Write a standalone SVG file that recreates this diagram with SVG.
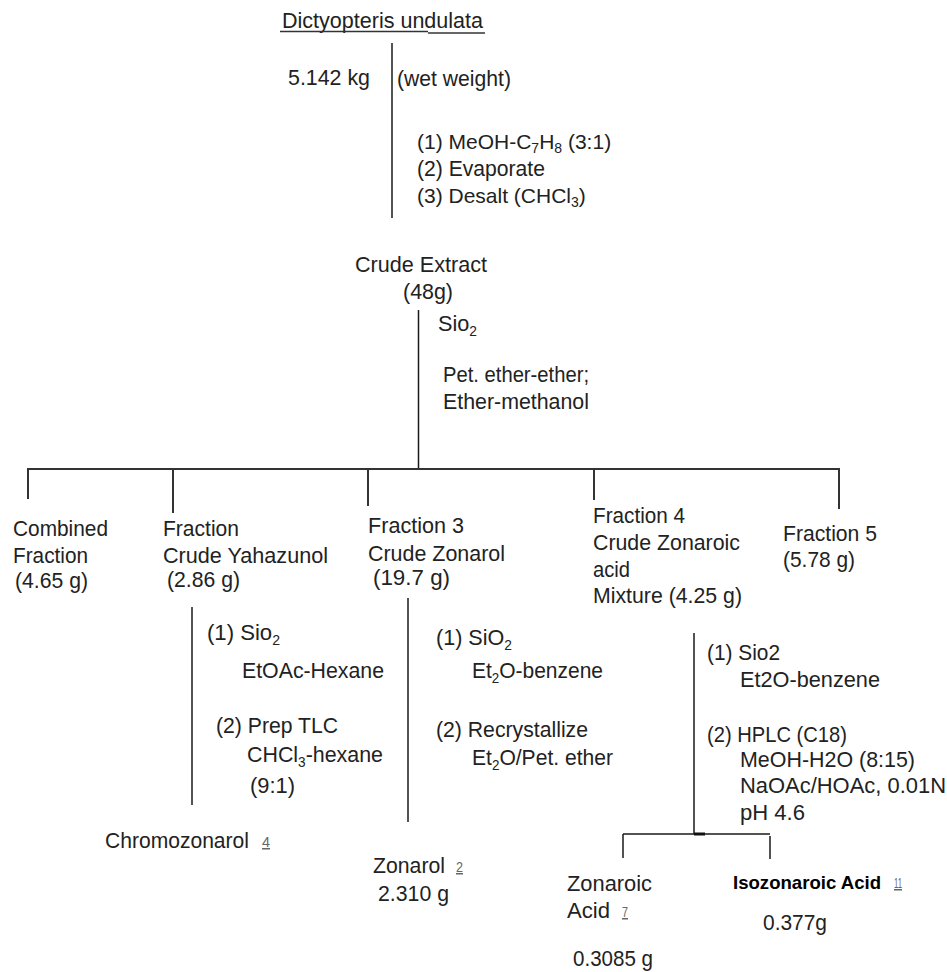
<svg xmlns="http://www.w3.org/2000/svg" width="947" height="972" viewBox="0 0 947 972">
<style>
.t{font-family:"Liberation Sans",Arial,sans-serif;font-size:22px;fill:#222}
.b{font-weight:bold;fill:#000;font-size:19px}
.n{font-family:"Liberation Sans",Arial,sans-serif;font-size:15px;fill:#666;text-decoration:underline}
.s{font-size:14px}
.ln{stroke:#1a1a1a;stroke-width:1.5;fill:none}
.hl{stroke:#333;stroke-width:2;fill:none}
</style>
<rect width="947" height="972" fill="#fff"/>
<g id="connectors">
<line class="ln" x1="392" y1="43" x2="392" y2="218"/>
<line class="ln" x1="418.5" y1="310" x2="418.5" y2="469"/>
<line class="hl" x1="27" y1="469" x2="840" y2="469"/>
<line class="hl" x1="28" y1="469" x2="28" y2="499"/>
<line class="hl" x1="173" y1="469" x2="173" y2="513"/>
<line class="hl" x1="368" y1="469" x2="368" y2="506"/>
<line class="hl" x1="594" y1="469" x2="594" y2="500"/>
<line class="hl" x1="839" y1="469" x2="839" y2="509"/>
<line class="ln" x1="192" y1="607" x2="192" y2="805"/>
<line class="ln" x1="408" y1="598" x2="408" y2="822"/>
<line class="ln" x1="694" y1="633" x2="694" y2="834"/>
<line class="ln" x1="623" y1="834" x2="770" y2="834"/>
<line stroke="#111" stroke-width="3" x1="694" y1="834" x2="705" y2="834"/>
<line class="ln" x1="623" y1="834" x2="623" y2="858"/>
<line class="ln" x1="770" y1="836" x2="770" y2="859"/>
</g>
<g id="source">
<text class="t" x="282" y="28" textLength="201" lengthAdjust="spacingAndGlyphs">Dictyopteris undulata</text>
<line stroke="#333" stroke-width="1.5" x1="280" y1="31.5" x2="428" y2="31.5"/>
<line stroke="#333" stroke-width="1.5" x1="428" y1="33" x2="485" y2="33"/>
<text class="t" x="288" y="85" textLength="82" lengthAdjust="spacingAndGlyphs">5.142 kg</text>
<text class="t" x="397" y="86" textLength="114" lengthAdjust="spacingAndGlyphs">(wet weight)</text>
</g>
<g id="step-extraction">
<text class="t" x="417" y="149" style="font-size:21px">(1) MeOH-C<tspan class="s" dy="4">7</tspan><tspan dy="-4">H</tspan><tspan class="s" dy="4">8</tspan><tspan dy="-4"> (3:1)</tspan></text>
<text class="t" x="417" y="176" textLength="128" lengthAdjust="spacingAndGlyphs">(2) Evaporate</text>
<text class="t" x="417" y="203" style="font-size:21px">(3) Desalt (CHCl<tspan class="s" dy="4">3</tspan><tspan dy="-4">)</tspan></text>
</g>
<g id="crude-extract">
<text class="t" x="355" y="272" textLength="132" lengthAdjust="spacingAndGlyphs">Crude Extract</text>
<text class="t" x="403" y="299" textLength="50" lengthAdjust="spacingAndGlyphs">(48g)</text>
</g>
<g id="step-column">
<text class="t" x="438" y="331" textLength="39" lengthAdjust="spacingAndGlyphs">Sio<tspan class="s" dy="5">2</tspan></text>
<text class="t" x="443" y="382" textLength="146" lengthAdjust="spacingAndGlyphs">Pet. ether-ether;</text>
<text class="t" x="443" y="409" textLength="146" lengthAdjust="spacingAndGlyphs">Ether-methanol</text>
</g>
<g id="fraction-combined">
<text class="t" x="13" y="536" textLength="95" lengthAdjust="spacingAndGlyphs">Combined</text>
<text class="t" x="13" y="563" textLength="75" lengthAdjust="spacingAndGlyphs">Fraction</text>
<text class="t" x="15" y="588" textLength="73" lengthAdjust="spacingAndGlyphs">(4.65 g)</text>
</g>
<g id="fraction-yahazunol">
<text class="t" x="163" y="536" textLength="76" lengthAdjust="spacingAndGlyphs">Fraction</text>
<text class="t" x="163" y="563" textLength="165" lengthAdjust="spacingAndGlyphs">Crude Yahazunol</text>
<text class="t" x="167" y="587" textLength="73" lengthAdjust="spacingAndGlyphs">(2.86 g)</text>
</g>
<g id="fraction-3">
<text class="t" x="368" y="533" textLength="96" lengthAdjust="spacingAndGlyphs">Fraction 3</text>
<text class="t" x="368" y="561" textLength="137" lengthAdjust="spacingAndGlyphs">Crude Zonarol</text>
<text class="t" x="373" y="585" textLength="77" lengthAdjust="spacingAndGlyphs">(19.7 g)</text>
</g>
<g id="fraction-4">
<text class="t" x="593" y="523" textLength="92" lengthAdjust="spacingAndGlyphs">Fraction 4</text>
<text class="t" x="593" y="550" textLength="147" lengthAdjust="spacingAndGlyphs">Crude Zonaroic</text>
<text class="t" x="593" y="577" textLength="37" lengthAdjust="spacingAndGlyphs">acid</text>
<text class="t" x="593" y="603" textLength="149" lengthAdjust="spacingAndGlyphs">Mixture (4.25 g)</text>
</g>
<g id="fraction-5">
<text class="t" x="783" y="541" textLength="94" lengthAdjust="spacingAndGlyphs">Fraction 5</text>
<text class="t" x="783" y="567" textLength="72" lengthAdjust="spacingAndGlyphs">(5.78 g)</text>
</g>
<g id="step-yahazunol">
<text class="t" x="207" y="640" textLength="73" lengthAdjust="spacingAndGlyphs">(1) Sio<tspan class="s" dy="5">2</tspan></text>
<text class="t" x="242" y="678" textLength="142" lengthAdjust="spacingAndGlyphs">EtOAc-Hexane</text>
<text class="t" x="216" y="733" textLength="122" lengthAdjust="spacingAndGlyphs">(2) Prep TLC</text>
<text class="t" x="247" y="762" textLength="136" lengthAdjust="spacingAndGlyphs">CHCl<tspan class="s" dy="5">3</tspan><tspan dy="-5">-hexane</tspan></text>
<text class="t" x="250" y="793" textLength="45" lengthAdjust="spacingAndGlyphs">(9:1)</text>
</g>
<g id="step-zonarol">
<text class="t" x="436" y="645" textLength="76" lengthAdjust="spacingAndGlyphs">(1) SiO<tspan class="s" dy="5">2</tspan></text>
<text class="t" x="472" y="678" textLength="131" lengthAdjust="spacingAndGlyphs">Et<tspan class="s" dy="5">2</tspan><tspan dy="-5">O-benzene</tspan></text>
<text class="t" x="436" y="737" textLength="152" lengthAdjust="spacingAndGlyphs">(2) Recrystallize</text>
<text class="t" x="472" y="765" textLength="141" lengthAdjust="spacingAndGlyphs">Et<tspan class="s" dy="5">2</tspan><tspan dy="-5">O/Pet. ether</tspan></text>
</g>
<g id="step-zonaroic">
<text class="t" x="707" y="660" textLength="73" lengthAdjust="spacingAndGlyphs">(1) Sio2</text>
<text class="t" x="740" y="687" textLength="140" lengthAdjust="spacingAndGlyphs">Et2O-benzene</text>
<text class="t" x="707" y="742" textLength="140" lengthAdjust="spacingAndGlyphs">(2) HPLC (C18)</text>
<text class="t" x="740" y="767" textLength="175" lengthAdjust="spacingAndGlyphs">MeOH-H2O (8:15)</text>
<text class="t" x="740" y="793" textLength="206" lengthAdjust="spacingAndGlyphs">NaOAc/HOAc, 0.01N</text>
<text class="t" x="740" y="820" textLength="65" lengthAdjust="spacingAndGlyphs">pH 4.6</text>
</g>
<g id="chromozonarol">
<text class="t" x="105" y="848" textLength="144" lengthAdjust="spacingAndGlyphs">Chromozonarol</text>
<text class="n" x="262" y="847" textLength="8" lengthAdjust="spacingAndGlyphs">4</text>
</g>
<g id="zonarol">
<text class="t" x="373" y="873" textLength="72" lengthAdjust="spacingAndGlyphs">Zonarol</text>
<text class="n" x="456" y="872" textLength="7" lengthAdjust="spacingAndGlyphs">2</text>
<text class="t" x="378" y="901" textLength="71" lengthAdjust="spacingAndGlyphs">2.310 g</text>
</g>
<g id="zonaroic-acid">
<text class="t" x="567" y="891" textLength="85" lengthAdjust="spacingAndGlyphs">Zonaroic</text>
<text class="t" x="567" y="918" textLength="43" lengthAdjust="spacingAndGlyphs">Acid</text>
<text class="n" x="622" y="917" textLength="6" lengthAdjust="spacingAndGlyphs">7</text>
<text class="t" x="573" y="966" textLength="80" lengthAdjust="spacingAndGlyphs">0.3085 g</text>
</g>
<g id="isozonaroic-acid">
<text class="t b" x="733" y="889" textLength="148" lengthAdjust="spacingAndGlyphs">Isozonaroic Acid</text>
<text class="n" x="894" y="888" textLength="8" lengthAdjust="spacingAndGlyphs">11</text>
<text class="t" x="763" y="930" textLength="64" lengthAdjust="spacingAndGlyphs">0.377g</text>
</g>
</svg>
